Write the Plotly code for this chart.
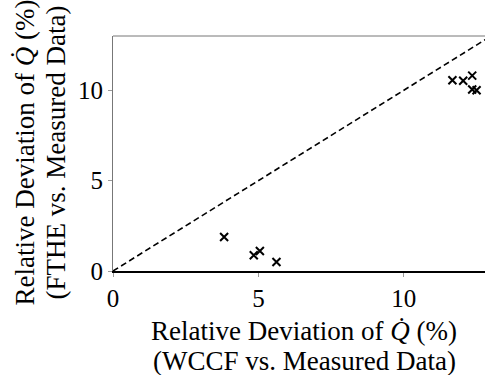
import plotly.graph_objects as go

# Relative deviation of heat rate Q-dot (%): WCCF vs measured (x), FTHE vs measured (y)
wccf_dev = [3.82, 4.84, 5.05, 5.62, 11.67, 12.04, 12.35, 12.35, 12.50]
fthe_dev = [1.88, 0.87, 1.11, 0.50, 10.55, 10.52, 10.81, 10.04, 10.00]
parity_line = [0, 13]
x_ticks = [0, 5, 10]
y_ticks = [0, 5, 10]

x_title = ["Relative Deviation of <i>Q̇</i> (%)", "(WCCF vs. Measured Data)"]
y_title = ["Relative Deviation of <i>Q̇</i> (%)", "(FTHE vs. Measured Data)"]

FONT = "Liberation Serif"
TITLE_SIZE = 27
TICK_SIZE = 25

fig = go.Figure()
fig.add_trace(go.Scatter(
    x=parity_line, y=parity_line, mode="lines",
    line=dict(color="black", width=1.6, dash="6px,3.5px"),
    showlegend=False, hoverinfo="skip",
))
fig.add_trace(go.Scatter(
    x=wccf_dev, y=fthe_dev, mode="markers",
    marker=dict(symbol="x-thin", size=8, line=dict(color="black", width=2)),
    showlegend=False,
))

# two-line axis titles, placed line by line for tighter spacing
annotations = []
for text, shift in zip(x_title, [-60, -89.5]):
    annotations.append(dict(
        text=text, xref="paper", yref="paper", x=0.5, y=0,
        xanchor="center", yanchor="middle", xshift=5, yshift=shift,
        showarrow=False, font=dict(family=FONT, size=TITLE_SIZE, color="black"),
    ))
for text, shift in zip(y_title, [-89, -58]):
    annotations.append(dict(
        text=text, xref="paper", yref="paper", x=0, y=0.5,
        xanchor="center", yanchor="middle", xshift=shift, yshift=1,
        textangle=-90, showarrow=False,
        font=dict(family=FONT, size=TITLE_SIZE, color="black"),
    ))

fig.update_layout(
    width=485, height=375,
    margin=dict(l=113, r=0, t=36, b=104),
    plot_bgcolor="white", paper_bgcolor="white",
    font=dict(family=FONT, size=TICK_SIZE, color="black"),
    xaxis=dict(
        range=[0, 12.79], tickvals=x_ticks, ticks="outside", ticklen=4,
        tickcolor="#999", showgrid=False, zeroline=False,
        showline=True, linecolor="black", linewidth=1.5, mirror=False,
        tickfont=dict(family=FONT, size=TICK_SIZE),
    ),
    yaxis=dict(
        range=[0, 13], tickvals=y_ticks, ticks="outside", ticklen=4,
        tickcolor="#999", showgrid=False, zeroline=False,
        showline=True, linecolor="#777", linewidth=1,
        tickfont=dict(family=FONT, size=TICK_SIZE),
    ),
    annotations=annotations,
    shapes=[dict(type="line", xref="paper", yref="paper", x0=0, x1=1, y0=1, y1=1,
                 line=dict(color="#777", width=1))],
)

fig.write_html("out.html")
